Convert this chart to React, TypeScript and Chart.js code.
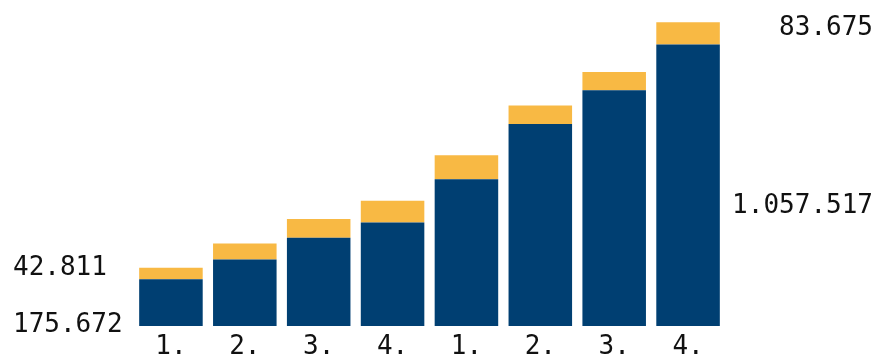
import React, { useEffect, useRef } from "react";
import { Chart, registerables } from "chart.js";

Chart.register(...registerables);

const categories = ["1.", "2.", "3.", "4.", "1.", "2.", "3.", "4."];
const baseValues = [175672, 250000, 331500, 389300, 551800, 759400, 886000, 1057517];
const topValues = [42811, 60000, 70200, 81100, 90100, 69000, 68700, 83675];

const NAVY = "#003f72";
const YELLOW = "#f8b944";
const FONT = "'DejaVu Sans Mono', monospace";

const fmt = (v: number) => v.toLocaleString("de-DE");

const sideLabels = {
  id: "sideLabels",
  afterDraw(chart: any) {
    const ctx = chart.ctx;
    const last = baseValues.length - 1;
    ctx.save();
    ctx.font = `26px ${FONT}`;
    ctx.fillStyle = "#111";
    ctx.textBaseline = "middle";
    ctx.textAlign = "left";
    ctx.fillText(fmt(topValues[0]), 13, 268);
    ctx.fillText(fmt(baseValues[0]), 13, 325);
    ctx.textAlign = "right";
    ctx.fillText(fmt(topValues[last]), 873, 28);
    ctx.fillText(fmt(baseValues[last]), 873, 206);
    ctx.restore();
  },
};

export default function App() {
  const ref = useRef<HTMLCanvasElement>(null);
  useEffect(() => {
    if (!ref.current) return;
    const chart = new Chart(ref.current, {
      type: "bar",
      data: {
        labels: categories,
        datasets: [
          { data: baseValues, backgroundColor: NAVY, barPercentage: 0.86, categoryPercentage: 1 },
          { data: topValues, backgroundColor: YELLOW, barPercentage: 0.86, categoryPercentage: 1 },
        ],
      },
      options: {
        animation: false,
        responsive: false,
        layout: { padding: { left: 134, right: 152, top: 20, bottom: 0 } },
        plugins: { legend: { display: false }, tooltip: { enabled: false } },
        scales: {
          x: {
            stacked: true,
            grid: { display: false, drawTicks: false },
            border: { display: false },
            ticks: {
              color: "#111",
              padding: 8,
              font: { family: FONT, size: 26, lineHeight: 1 },
              maxRotation: 0,
              autoSkip: false,
            },
          },
          y: { stacked: true, display: false, min: 0, max: 1150000 },
        },
      },
      plugins: [sideLabels],
    });
    return () => chart.destroy();
  }, []);
  return (
    <div style={{ position: "fixed", left: 0, top: 0, width: 877, height: 358, overflow: "hidden", background: "#fff" }}>
      <canvas ref={ref} width={877} height={368} style={{ display: "block" }} />
    </div>
  );
}
